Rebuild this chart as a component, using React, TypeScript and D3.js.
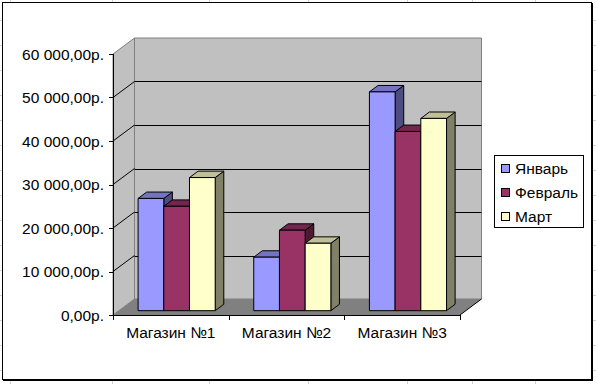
import React from 'react';
import * as d3 from 'd3';

const categories = ['Магазин №1', 'Магазин №2', 'Магазин №3'];
const seriesNames = ['Январь', 'Февраль', 'Март'];
const january = [25800, 12300, 50300];
const february = [24000, 18500, 41200];
const march = [30600, 15500, 44200];
const yTicks = [0, 10000, 20000, 30000, 40000, 50000, 60000];

const seriesValues = [january, february, march];
const fills = ['#9999FF', '#993366', '#FFFFCC'];

const W = 596;
const H = 384;
const FONT = '"Liberation Sans", Arial, sans-serif';

// 3d depth of the plot box
const DX = 21.5;
const DY = -16;
// bar placement inside the depth (fractions)
const F0 = 0.27;
const F1 = 0.67;

const rub = d3.formatLocale({
  decimal: ',',
  thousands: ' ',
  grouping: [3],
  currency: ['', 'р.'],
}).format('$,.2f');

function shade(c: string, k: number) {
  const col = d3.rgb(c);
  return d3.rgb(col.r * k, col.g * k, col.b * k).formatHex();
}

export default function App() {
  const y = d3.scaleLinear().domain([0, 60000]).range([315, 54]);
  const x = d3.scaleBand<string>().domain(categories).range([113, 460]);
  const inner = d3.scaleBand<string>()
    .domain(seriesNames)
    .range([0, x.bandwidth()])
    .paddingInner(0)
    .paddingOuter(0.75);

  const [x0, x1] = x.range();
  const yb = y(0);
  const yt = y(60000);
  const pts = (p: number[][]) => p.map(d => d.join(',')).join(' ');

  const bw = inner.bandwidth();
  const ddx = (F1 - F0) * DX;
  const ddy = (F1 - F0) * DY;

  const bars: JSX.Element[] = [];
  categories.forEach((cat, ci) => {
    seriesNames.forEach((s, si) => {
      const v = seriesValues[si][ci];
      const xl = (x(cat) as number) + (inner(s) as number) + F0 * DX;
      const xr = xl + bw;
      const top = y(v) + F0 * DY;
      const bot = yb + F0 * DY;
      const f = fills[si];
      bars.push(
        <g key={cat + s} stroke="#000" strokeWidth={1} strokeLinejoin="round">
          <polygon points={pts([[xr, top], [xr + ddx, top + ddy], [xr + ddx, bot + ddy], [xr, bot]])} fill={shade(f, 0.5)} />
          <polygon points={pts([[xl, top], [xl + ddx, top + ddy], [xr + ddx, top + ddy], [xr, top]])} fill={shade(f, 0.75)} />
          <rect x={xl} y={top} width={bw} height={bot - top} fill={f} />
        </g>
      );
    });
  });

  const gridVals = yTicks.filter(v => v > 0 && v < 60000);
  const colLines = [10, 112, 209, 308, 407, 472, 535];
  const rowLines = d3.range(20, 384, 25);

  return (
    <svg width={W} height={H} style={{ position: 'absolute', left: 0, top: 0, background: '#fff' }} fontFamily={FONT}>
      {/* sheet gridlines behind the chart object */}
      <g stroke="#D0D0D0" strokeWidth={1}>
        {colLines.map(c => <line key={'c' + c} x1={c + 0.5} x2={c + 0.5} y1={0} y2={H} />)}
        {rowLines.map(r => <line key={'r' + r} x1={0} x2={W} y1={r + 0.5} y2={r + 0.5} />)}
      </g>
      <rect x={2.5} y={2.5} width={589} height={377} fill="#fff" stroke="#000" />
      <line x1={592.5} x2={592.5} y1={3} y2={381} stroke="#000" />
      <line x1={3} x2={593} y1={380.5} y2={380.5} stroke="#000" />

      {/* walls and floor */}
      <polygon points={pts([[x0 + DX, yt + DY], [x1 + DX, yt + DY], [x1 + DX, yb + DY], [x0 + DX, yb + DY]])} fill="#C0C0C0" stroke="#808080" />
      <polygon points={pts([[x0, yt], [x0 + DX, yt + DY], [x0 + DX, yb + DY], [x0, yb]])} fill="#C0C0C0" stroke="#808080" />
      <polygon points={pts([[x0, yb], [x1, yb], [x1 + DX, yb + DY], [x0 + DX, yb + DY]])} fill="#808080" />
      <g stroke="#000" strokeWidth={1}>
        {gridVals.map(v => (
          <g key={v}>
            <line x1={x0 + DX} x2={x1 + DX} y1={Math.round(y(v) + DY) + 0.5} y2={Math.round(y(v) + DY) + 0.5} />
            <line x1={x0} x2={x0 + DX} y1={y(v)} y2={y(v) + DY} />
          </g>
        ))}
      </g>
      <line x1={x1} x2={x1 + DX} y1={yb} y2={yb + DY} stroke="#000" />

      {bars}

      {/* axes */}
      <g stroke="#000" strokeWidth={1}>
        <line x1={x0 + 0.5} x2={x0 + 0.5} y1={yt} y2={yb + 0.5} />
        {yTicks.map(v => (
          <line key={v} x1={x0 - 4} x2={x0 + 0.5} y1={Math.round(y(v)) + 0.5} y2={Math.round(y(v)) + 0.5} />
        ))}
        <line x1={x0} x2={x1} y1={yb + 0.5} y2={yb + 0.5} />
        {[...categories.map(c => x(c) as number), x1].map(t => (
          <line key={t} x1={Math.round(t) + 0.5} x2={Math.round(t) + 0.5} y1={yb} y2={yb + 5} />
        ))}
      </g>
      <g fontSize={15.5} fill="#000">
        {yTicks.map(v => (
          <text key={v} x={104} y={y(v)} dy="0.36em" textAnchor="end">{rub(v)}</text>
        ))}
        {categories.map(c => (
          <text key={c} x={(x(c) as number) + x.bandwidth() / 2} y={338} textAnchor="middle">{c}</text>
        ))}
      </g>

      {/* legend */}
      <rect x={494.5} y={155.5} width={89} height={72} fill="#fff" stroke="#000" />
      {seriesNames.map((s, i) => (
        <g key={s} transform={`translate(0,${i * 24})`}>
          <rect x={501.5} y={164.5} width={8} height={8} fill={fills[i]} stroke="#000" />
          <text x={515} y={168.5} dy="0.36em" fontSize={15.5}>{s}</text>
        </g>
      ))}
    </svg>
  );
}
